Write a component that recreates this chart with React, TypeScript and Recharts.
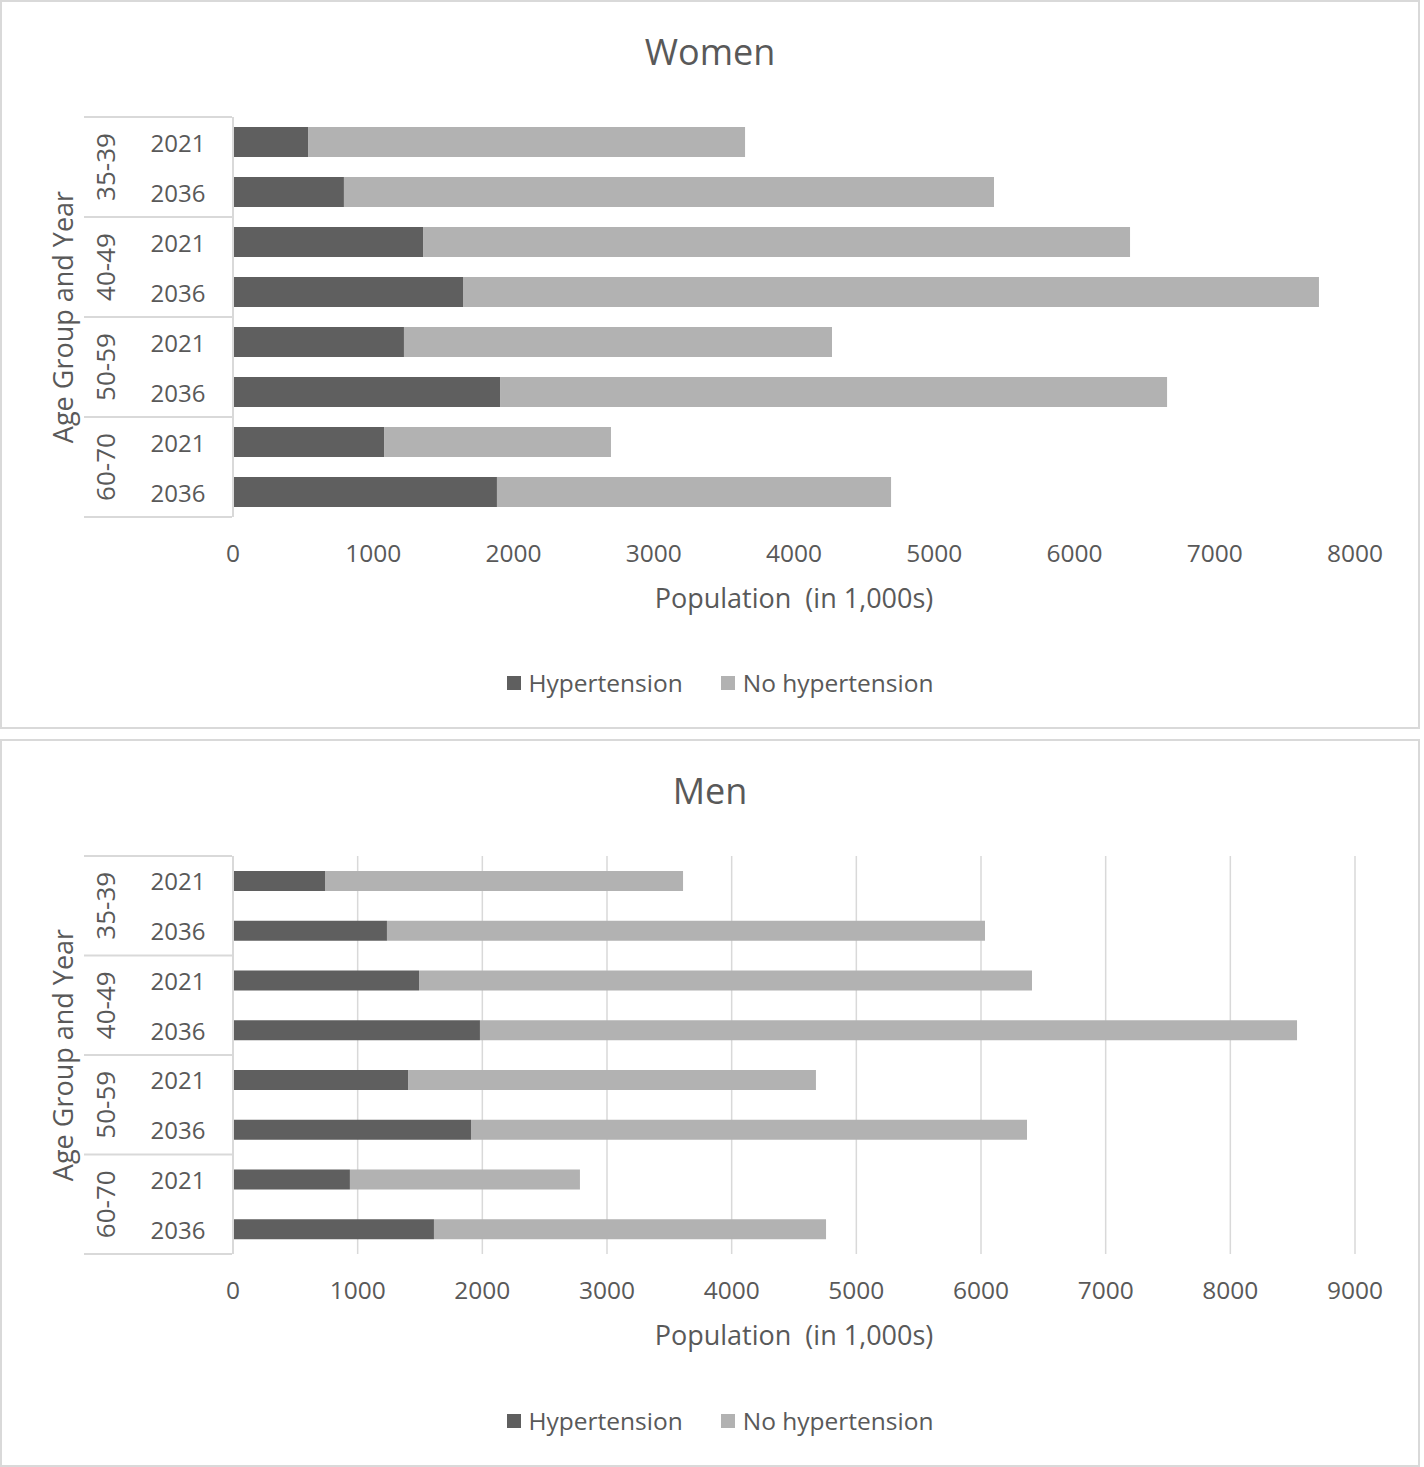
import React from 'react';
import { BarChart, Bar, XAxis, YAxis, CartesianGrid, Legend } from 'recharts';

const groups = ['35-39', '35-39', '40-49', '40-49', '50-59', '50-59', '60-70', '60-70'];
const years = ['2021', '2036', '2021', '2036', '2021', '2036', '2021', '2036'];

const womenHyp = [535, 791, 1355, 1640, 1219, 1904, 1077, 1882];
const womenNoHyp = [3116, 4635, 5041, 6103, 3052, 4756, 1618, 2810];
const menHyp = [738, 1235, 1492, 1981, 1404, 1909, 938, 1612];
const menNoHyp = [2872, 4797, 4917, 6554, 3272, 4460, 1845, 3145];

const womenTicks = [0, 1000, 2000, 3000, 4000, 5000, 6000, 7000, 8000];
const menTicks = [0, 1000, 2000, 3000, 4000, 5000, 6000, 7000, 8000, 9000];

const DARK = '#5f5f5f';
const LIGHT = '#b2b2b2';
const TEXT = '#595959';
const LINE = '#d9d9d9';
const FONT = '"Open Sans", sans-serif';

const build = (hyp: number[], noHyp: number[]) =>
  groups.map((g, i) => ({ row: `${g} ${years[i]}`, group: g, year: years[i], hyp: hyp[i], noHyp: noHyp[i] }));

const YearTick = (props: any) => {
  const { y, index, rowH, data } = props;
  const axisX = 232;
  const out: React.ReactNode[] = [
    <text key="y" x={178} y={y} textAnchor="middle" dominantBaseline="central" fill={TEXT} fontSize={24} fontFamily={FONT}>
      {data[index].year}
    </text>,
  ];
  if (index % 2 === 0) {
    const cy = y + rowH / 2;
    out.push(
      <line key="t" x1={84} x2={axisX} y1={y - rowH / 2} y2={y - rowH / 2} stroke={LINE} strokeWidth={2} />,
      <text key="g" x={105} y={cy} transform={`rotate(-90 105 ${cy})`} textAnchor="middle" dominantBaseline="central" fill={TEXT} fontSize={26} fontFamily={FONT}>
        {data[index].group}
      </text>
    );
  }
  if (index === data.length - 1) {
    out.push(<line key="b" x1={84} x2={axisX} y1={y + rowH / 2} y2={y + rowH / 2} stroke={LINE} strokeWidth={2} />);
  }
  return <g>{out}</g>;
};

const LegendContent = (props: any) => (
  <div style={{ display: 'flex', justifyContent: 'center', fontFamily: FONT, fontSize: 24.5, color: TEXT }}>
    {props.payload.map((p: any, i: number) => (
      <div key={i} style={{ display: 'flex', alignItems: 'center', marginLeft: i ? 38 : 0 }}>
        <span style={{ width: 14, height: 14, background: p.color, display: 'inline-block', marginRight: 8 }} />
        <span>{p.value}</span>
      </div>
    ))}
  </div>
);

type PanelProps = {
  title: string;
  top: number;
  height: number;
  data: any[];
  ticks: number[];
  barSize: number;
  grid: boolean;
  plotTop: number;
  plotBottom: number;
};

const Panel = ({ title, top, height, data, ticks, barSize, grid, plotTop, plotBottom }: PanelProps) => {
  const rowH = (plotBottom - plotTop) / data.length;
  const xAxisH = 100;
  const midY = (plotTop + plotBottom) / 2;
  return (
    <div style={{ position: 'absolute', left: 0, top, width: 1424, height }}>
      <div style={{ position: 'absolute', left: 0, top: 0, width: 1420, height: height, border: `2px solid ${LINE}`, boxSizing: 'border-box' }} />
      <div style={{ position: 'absolute', left: 0, top: 27, width: 1420, textAlign: 'center', fontFamily: FONT, fontSize: 36, color: TEXT }}>
        {title}
      </div>
      <div style={{ position: 'absolute', left: 0, top: 0 }}>
        <BarChart
          layout="vertical"
          width={1424}
          height={height}
          data={data}
          margin={{ top: plotTop, right: 69, left: 0, bottom: height - plotBottom - xAxisH }}
        >
          {grid && <CartesianGrid horizontal={false} stroke={LINE} strokeWidth={1.5} />}
          <XAxis
            type="number"
            domain={[0, ticks[ticks.length - 1]]}
            ticks={ticks}
            axisLine={false}
            tickLine={false}
            height={xAxisH}
            tickMargin={22}
            tick={{ fill: TEXT, fontSize: 24.5, fontFamily: FONT }}
            label={{ value: 'Population\u00a0\u00a0(in 1,000s)', position: 'insideTop', offset: 72, fill: TEXT, fontSize: 27, fontFamily: FONT }}
          />
          <YAxis
            type="category"
            dataKey="row"
            width={233}
            tickLine={false}
            axisLine={{ stroke: LINE, strokeWidth: 2 }}
            interval={0}
            tick={<YearTick rowH={rowH} data={data} />}
            label={{
              content: () => (
                <text x={62} y={midY} transform={`rotate(-90 62 ${midY})`} textAnchor="middle" dominantBaseline="central" fill={TEXT} fontSize={27} fontFamily={FONT}>
                  Age Group and Year
                </text>
              ),
            }}
          />
          <Legend
            verticalAlign="middle"
            align="center"
            wrapperStyle={{ top: height - 63, left: 10, width: 1420 }}
            content={<LegendContent />}
          />
          <Bar dataKey="hyp" name="Hypertension" stackId="a" fill={DARK} barSize={barSize} isAnimationActive={false} />
          <Bar dataKey="noHyp" name="No hypertension" stackId="a" fill={LIGHT} barSize={barSize} isAnimationActive={false} />
        </BarChart>
      </div>
    </div>
  );
};

export default function App() {
  return (
    <div style={{ position: 'absolute', left: 0, top: 0, width: 1424, height: 1467, background: '#fff' }}>
      <Panel title="Women" top={0} height={729} data={build(womenHyp, womenNoHyp)} ticks={womenTicks} barSize={30} grid={false} plotTop={117} plotBottom={517} />
      <Panel title="Men" top={739} height={728} data={build(menHyp, menNoHyp)} ticks={menTicks} barSize={20} grid={true} plotTop={117} plotBottom={515} />
    </div>
  );
}
